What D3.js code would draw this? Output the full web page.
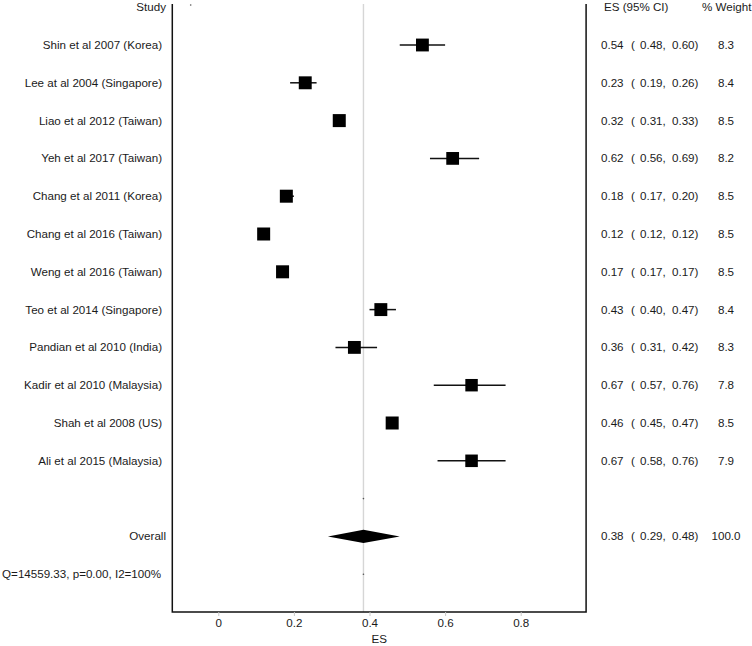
<!DOCTYPE html>
<html>
<head>
<meta charset="utf-8">
<script src="https://cdn.jsdelivr.net/npm/d3@7"></script>
<style>
  body { margin: 0; background: #fff; }
  text { font-family: "Liberation Sans", Arial, sans-serif; font-size: 11.6px; fill: #1a1a1a; }
</style>
</head>
<body>
<svg id="chart"></svg>
<script>
const studies = [
    "Shin et al 2007 (Korea)",
    "Lee at al 2004 (Singapore)",
    "Liao et al 2012 (Taiwan)",
    "Yeh et al 2017 (Taiwan)",
    "Chang et al 2011 (Korea)",
    "Chang et al 2016 (Taiwan)",
    "Weng et al 2016 (Taiwan)",
    "Teo et al 2014 (Singapore)",
    "Pandian et al 2010 (India)",
    "Kadir et al 2010 (Malaysia)",
    "Shah et al 2008 (US)",
    "Ali et al 2015 (Malaysia)"
];
const esValues = [0.54, 0.23, 0.32, 0.62, 0.18, 0.12, 0.17, 0.43, 0.36, 0.67, 0.46, 0.67];
const ciLow    = [0.48, 0.19, 0.31, 0.56, 0.17, 0.12, 0.17, 0.40, 0.31, 0.57, 0.45, 0.58];
const ciHigh   = [0.60, 0.26, 0.33, 0.69, 0.20, 0.12, 0.17, 0.47, 0.42, 0.76, 0.47, 0.76];
const weights  = [8.3, 8.4, 8.5, 8.2, 8.5, 8.5, 8.5, 8.4, 8.3, 7.8, 8.5, 7.9];

const overallEs = 0.384;
const overallLow = 0.29;
const overallHigh = 0.48;
const overallWeight = 100.0;
const heteroText = "Q=14559.33, p=0.00, I2=100%";

const tickValues = [0, 0.2, 0.4, 0.6, 0.8];
const tickLabels = ["0", "0.2", "0.4", "0.6", "0.8"];

const width = 752;
const height = 646;
const fmt = d3.format(".2f");

const svg = d3.select("#chart")
    .attr("width", width)
    .attr("height", height);

// x: effect size, y: row index (-1 = header, 12 = gap, 13 = overall, 14 = Q)
const x = d3.scaleLinear().domain([0, 0.8]).range([218.3, 520.7]);
const y = d3.scaleLinear().domain([-1, 14]).range([7.2, 574.2]);

const frameLeft = x(-0.1217);
const frameRight = x(0.973);
const frameTop = 4;
const frameBottom = 612;

const rows = studies.map((s, i) => ({
    name: s, es: esValues[i], lo: ciLow[i], hi: ciHigh[i], w: weights[i], row: i
}));

// reference line at the pooled estimate
svg.append("line")
    .attr("x1", x(overallEs)).attr("x2", x(overallEs))
    .attr("y1", frameTop).attr("y2", frameBottom)
    .attr("stroke", "#d6d6d6")
    .attr("stroke-width", 1.4);

// frame
svg.append("path")
    .attr("d", `M${frameLeft},${frameTop}V${frameBottom}H${frameRight}V${frameTop}`)
    .attr("fill", "none")
    .attr("stroke", "#111")
    .attr("stroke-width", 1.5);

// axis
const axis = d3.axisBottom(x)
    .tickValues(tickValues)
    .tickFormat((d, i) => tickLabels[i])
    .tickSize(4)
    .tickPadding(3);

const axisG = svg.append("g")
    .attr("transform", `translate(0,${frameBottom})`)
    .call(axis);
axisG.select(".domain").remove();
axisG.selectAll(".tick line").attr("stroke", "#c8c8c8");
axisG.selectAll(".tick text")
    .attr("fill", "#1a1a1a")
    .style("font-family", "\"Liberation Sans\", Arial, sans-serif")
    .style("font-size", "11.6px");

svg.append("text")
    .attr("x", (frameLeft + frameRight) / 2)
    .attr("y", 643)
    .attr("text-anchor", "middle")
    .text("ES");

// headers
svg.append("text")
    .attr("x", 166).attr("y", y(-1))
    .attr("dy", "0.35em")
    .attr("text-anchor", "end")
    .text("Study");
svg.append("text")
    .attr("x", 604).attr("y", y(-1))
    .attr("dy", "0.35em")
    .text("ES (95% CI)");
svg.append("text")
    .attr("x", 702).attr("y", y(-1))
    .attr("dy", "0.35em")
    .text("% Weight");

// CI lines
svg.selectAll(".ci")
    .data(rows)
    .enter()
    .append("line")
    .attr("class", "ci")
    .attr("x1", d => x(d.lo))
    .attr("x2", d => x(d.hi))
    .attr("y1", d => y(d.row))
    .attr("y2", d => y(d.row))
    .attr("stroke", "#111")
    .attr("stroke-width", 1.5);

// weight squares
const side = d => 13 * Math.sqrt(d.w / 8.5);
svg.selectAll(".box")
    .data(rows)
    .enter()
    .append("rect")
    .attr("class", "box")
    .attr("x", d => x(d.es) - side(d) / 2)
    .attr("y", d => y(d.row) - side(d) / 2)
    .attr("width", side)
    .attr("height", side)
    .attr("fill", "#000");

// study labels
svg.selectAll(".label")
    .data(rows)
    .enter()
    .append("text")
    .attr("class", "label")
    .attr("x", 162)
    .attr("y", d => y(d.row))
    .attr("dy", "0.35em")
    .attr("text-anchor", "end")
    .text(d => d.name);

// right-hand columns
const addStats = (row, es, lo, hi, w, wText) => {
    const g = svg.append("g");
    const yy = y(row);
    g.append("text").attr("x", 601).attr("y", yy).attr("dy", "0.35em").text(fmt(es));
    g.append("text").attr("x", 631).attr("y", yy).attr("dy", "0.35em").text("(");
    g.append("text").attr("x", 640).attr("y", yy).attr("dy", "0.35em").text(fmt(lo) + ",");
    g.append("text").attr("x", 672).attr("y", yy).attr("dy", "0.35em").text(fmt(hi) + ")");
    g.append("text").attr("x", 726).attr("y", yy).attr("dy", "0.35em")
        .attr("text-anchor", "middle").text(wText);
};
rows.forEach(d => addStats(d.row, d.es, d.lo, d.hi, d.w, d.w.toFixed(1)));
addStats(13, overallEs, overallLow, overallHigh, overallWeight, overallWeight.toFixed(1));

// overall diamond
const dy = 6.7;
svg.append("path")
    .attr("d", `M${x(overallLow)},${y(13)}L${x(overallEs)},${y(13) - dy}L${x(overallHigh)},${y(13)}L${x(overallEs)},${y(13) + dy}Z`)
    .attr("fill", "#000");

svg.append("text")
    .attr("x", 166).attr("y", y(13))
    .attr("dy", "0.35em")
    .attr("text-anchor", "end")
    .text("Overall");

svg.append("text")
    .attr("x", 161).attr("y", y(14))
    .attr("dy", "0.35em")
    .attr("text-anchor", "end")
    .text(heteroText);

// tiny marker dots left by the plotting program
const dots = [[-0.073, -1.06], [overallEs, 12], [overallEs, 14]];
svg.selectAll(".dot")
    .data(dots)
    .enter()
    .append("circle")
    .attr("class", "dot")
    .attr("cx", d => x(d[0]))
    .attr("cy", d => y(d[1]))
    .attr("r", 0.8)
    .attr("fill", "#555");
</script>
</body>
</html>
